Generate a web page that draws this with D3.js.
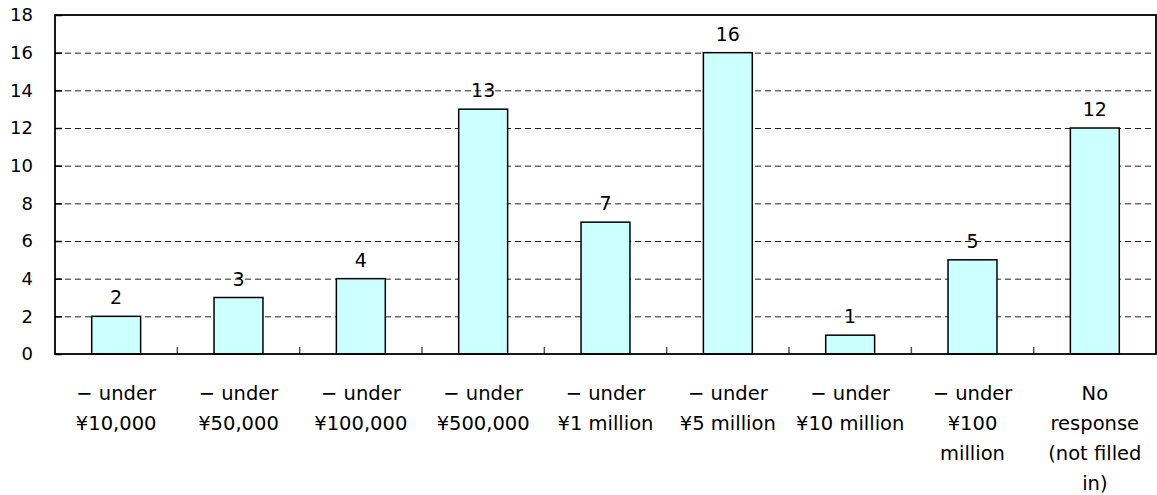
<!DOCTYPE html>
<html><head><meta charset="utf-8">
<script src="https://cdn.jsdelivr.net/npm/d3@7"></script>
<style>body{margin:0;background:#fff}svg{display:block}text{font-family:"DejaVu Sans","Liberation Sans",sans-serif;fill:#000}</style>
</head><body>
<script>
const categories = [
  ["− under", "¥10,000"],
  ["− under", "¥50,000"],
  ["− under", "¥100,000"],
  ["− under", "¥500,000"],
  ["− under", "¥1 million"],
  ["− under", "¥5 million"],
  ["− under", "¥10 million"],
  ["− under", "¥100", "million"],
  ["No", "response", "(not filled", "in)"]
];
const values = [2, 3, 4, 13, 7, 16, 1, 5, 12];
const yTicks = [0, 2, 4, 6, 8, 10, 12, 14, 16, 18];

const W = 1157, H = 495;
const m = {left: 55, right: 1156, top: 15, bottom: 354};
const svg = d3.select("body").append("svg").attr("width", W).attr("height", H);
const ids = categories.map((c, i) => i);
const x = d3.scaleBand().domain(ids).range([m.left, m.right]).paddingInner(0.6).paddingOuter(0.3);
const xb = d3.scaleBand().domain(ids).range([m.left, m.right]);
const y = d3.scaleLinear().domain([0, 18]).range([m.bottom, m.top]);

// gridlines
svg.append("g").selectAll("line").data(yTicks.filter(t => t > 0 && t < 18)).join("line")
  .attr("x1", m.left).attr("x2", m.right)
  .attr("y1", d => y(d) + 0.5).attr("y2", d => y(d) + 0.5)
  .attr("stroke", "#222").attr("stroke-width", 1).attr("stroke-dasharray", "6,4");

// y axis
const ya = svg.append("g").attr("transform", `translate(${m.left},0)`)
  .call(d3.axisLeft(y).tickValues(yTicks).tickSize(-7).tickPadding(22));
ya.select(".domain").remove();
ya.selectAll("line").attr("stroke", "#000").attr("stroke-width", 1.5);
ya.selectAll("text").attr("font-size", 18).attr("font-family", "DejaVu Sans");

// bars
svg.append("g").selectAll("rect").data(values).join("rect")
  .attr("x", (d, i) => x(i)).attr("width", x.bandwidth())
  .attr("y", d => y(d)).attr("height", d => y(0) - y(d))
  .attr("fill", "#CCFFFF").attr("stroke", "#000").attr("stroke-width", 1.5);

// value labels
svg.append("g").selectAll("text").data(values).join("text")
  .attr("x", (d, i) => x(i) + x.bandwidth() / 2)
  .attr("y", d => y(d) - 12)
  .attr("text-anchor", "middle").attr("font-size", 19).text(d => d);

// x axis tick marks at category boundaries
svg.append("g").selectAll("line").data(ids.slice(1)).join("line")
  .attr("x1", d => xb(d)).attr("x2", d => xb(d))
  .attr("y1", m.bottom).attr("y2", m.bottom - 7)
  .attr("stroke", "#555").attr("stroke-width", 1.5);

// frame
svg.append("rect").attr("x", m.left).attr("y", m.top)
  .attr("width", m.right - m.left).attr("height", m.bottom - m.top)
  .attr("fill", "none").attr("stroke", "#000").attr("stroke-width", 1.8);

// x labels
const xl = svg.append("g").selectAll("text").data(categories).join("text")
  .attr("x", (d, i) => xb(i) + xb.bandwidth() / 2)
  .attr("y", 400).attr("text-anchor", "middle").attr("font-size", 19.5);
xl.selectAll("tspan").data(d => d).join("tspan")
  .attr("x", function() { return this.parentNode.getAttribute("x"); })
  .attr("dy", (d, j) => j === 0 ? 0 : 30).text(d => d);
</script>
</body></html>
